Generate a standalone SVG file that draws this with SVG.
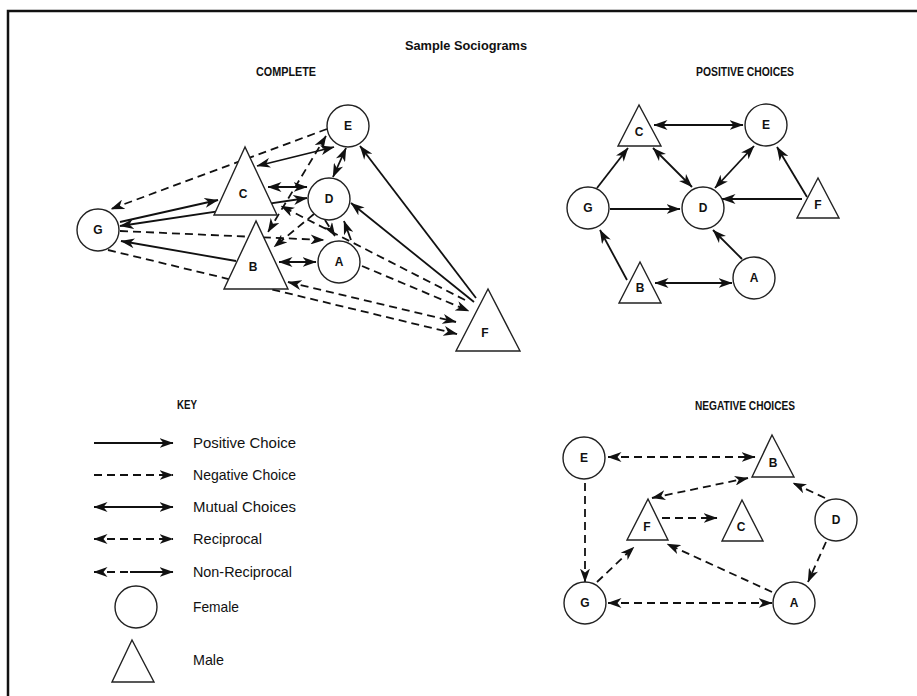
<svg xmlns="http://www.w3.org/2000/svg" width="917" height="696" viewBox="0 0 917 696">
<defs>
<marker id="ah" viewBox="0 0 14 10" refX="13.5" refY="5" markerWidth="14" markerHeight="10" markerUnits="userSpaceOnUse" orient="auto-start-reverse">
<path d="M0,0 L14,5 L0,10 L4,5 Z" fill="#111" stroke="none"/>
</marker>
<style>
.n{fill:#fff;stroke:#222;stroke-width:1.4}
.lbl{font-family:"Liberation Sans Narrow","Liberation Sans",Arial,sans-serif;font-weight:bold;font-size:12px;text-anchor:middle;fill:#111}
.hd{font-family:"Liberation Sans Narrow","Liberation Sans",Arial,sans-serif;font-weight:bold;font-size:12px;text-anchor:middle;fill:#111}
.kt{font-family:"Liberation Sans Narrow","Liberation Sans",Arial,sans-serif;font-size:15px;fill:#111}
.e{stroke:#111;stroke-width:1.8;fill:none}
.d{stroke-dasharray:8 5}
.a1{marker-end:url(#ah)}
.a2{marker-start:url(#ah);marker-end:url(#ah)}
.a0{marker-start:url(#ah)}
</style>
</defs>
<rect width="917" height="696" fill="#fff"/>
<path d="M8,700 V11 H920" fill="none" stroke="#111" stroke-width="2.5"/>

<text class="hd" x="466" y="50" font-size="16" textLength="122" lengthAdjust="spacingAndGlyphs">Sample Sociograms</text>
<text class="hd" x="286" y="76" textLength="60" lengthAdjust="spacingAndGlyphs">COMPLETE</text>
<text class="hd" x="745" y="76" textLength="98" lengthAdjust="spacingAndGlyphs">POSITIVE CHOICES</text>
<text class="hd" x="187" y="409" textLength="20" lengthAdjust="spacingAndGlyphs">KEY</text>
<text class="hd" x="745" y="410" textLength="100" lengthAdjust="spacingAndGlyphs">NEGATIVE CHOICES</text>

<!-- COMPLETE -->
<g id="complete-edges">
<line class="e d a1" x1="327" y1="129" x2="111" y2="209"/>
<line class="e a2" x1="257" y1="166" x2="334" y2="147"/>
<line class="e d a2" x1="326" y1="136" x2="268" y2="232"/>
<line class="e a2" x1="346" y1="148" x2="333" y2="177"/>
<line class="e a2" x1="268" y1="187" x2="307" y2="187"/>
<line class="e a2" x1="120" y1="226" x2="307" y2="198"/>
<line class="e a1" x1="120" y1="222" x2="218" y2="200"/>
<line class="e d a1" x1="314" y1="214" x2="274" y2="247"/>
<line class="e d a1" x1="120" y1="231" x2="324" y2="240"/>
<line class="e d a1" x1="465" y1="300" x2="281" y2="206"/>
<line class="e d a1" x1="325" y1="220" x2="335" y2="236"/>
<line class="e a1" x1="351" y1="240" x2="344" y2="221"/>
<line class="e a2" x1="279" y1="262" x2="316" y2="262"/>
<line class="e d a1" x1="362" y1="266" x2="469" y2="311"/>
<line class="e d a2" x1="288" y1="282" x2="456" y2="322"/>
<line class="e d a1" x1="108" y1="250" x2="457" y2="334"/>
<line class="e a1" x1="236" y1="261" x2="121" y2="241"/>
<line class="e a1" x1="474" y1="302" x2="351" y2="203"/>
<line class="e a1" x1="476" y1="298" x2="360" y2="146"/>
</g>
<g id="c-G"><circle class="n" cx="98" cy="230" r="21"/><text class="lbl" x="98" y="234.3">G</text></g>
<g id="c-E"><circle class="n" cx="348" cy="126" r="21"/><text class="lbl" x="348" y="130.3">E</text></g>
<g id="c-D"><circle class="n" cx="329" cy="199" r="21"/><text class="lbl" x="329" y="203.3">D</text></g>
<g id="c-A"><circle class="n" cx="339" cy="262" r="21"/><text class="lbl" x="339" y="266.3">A</text></g>
<g id="c-C"><polygon class="n" points="245,147 214,215 277,215"/><text class="lbl" x="243" y="198.3">C</text></g>
<g id="c-B"><polygon class="n" points="256,221 224,289 288,289"/><text class="lbl" x="253" y="271">B</text></g>
<g id="c-F"><polygon class="n" points="488,289 456,351 520,351"/><text class="lbl" x="485" y="337.3">F</text></g>

<!-- POSITIVE -->
<g id="positive-edges">
<line class="e a2" x1="654" y1="125" x2="743" y2="125"/>
<line class="e a2" x1="653" y1="148" x2="692" y2="187"/>
<line class="e a2" x1="754" y1="146" x2="715" y2="188"/>
<line class="e a1" x1="597" y1="188" x2="628" y2="148"/>
<line class="e a1" x1="610" y1="209" x2="680" y2="209"/>
<line class="e a1" x1="802" y1="199" x2="722" y2="199"/>
<line class="e a1" x1="807" y1="197" x2="777" y2="147"/>
<line class="e a1" x1="742" y1="259" x2="713" y2="230"/>
<line class="e a1" x1="627" y1="280" x2="600" y2="230"/>
<line class="e a2" x1="655" y1="283" x2="732" y2="283"/>
</g>
<g id="p-C"><polygon class="n" points="639,105 618,146 661,146"/><text class="lbl" x="639" y="136.3">C</text></g>
<g id="p-E"><circle class="n" cx="766" cy="125" r="21"/><text class="lbl" x="766" y="129.3">E</text></g>
<g id="p-G"><circle class="n" cx="588" cy="208" r="21"/><text class="lbl" x="588" y="212.3">G</text></g>
<g id="p-D"><circle class="n" cx="703" cy="208" r="21"/><text class="lbl" x="703" y="212.3">D</text></g>
<g id="p-F"><polygon class="n" points="818,178 797,218 839,218"/><text class="lbl" x="818" y="209.3">F</text></g>
<g id="p-B"><polygon class="n" points="640,262 619,303 661,303"/><text class="lbl" x="640" y="292.3">B</text></g>
<g id="p-A"><circle class="n" cx="754" cy="278" r="21"/><text class="lbl" x="754" y="282.3">A</text></g>

<!-- NEGATIVE -->
<g id="negative-edges">
<line class="e d a2" x1="608" y1="457" x2="755" y2="457"/>
<line class="e d a2" x1="652" y1="498" x2="748" y2="478"/>
<line class="e d a1" x1="662" y1="518" x2="717" y2="518"/>
<line class="e d a1" x1="825" y1="498" x2="793" y2="483"/>
<line class="e d a1" x1="826" y1="542" x2="808" y2="582"/>
<line class="e d a1" x1="772" y1="592" x2="667" y2="544"/>
<line class="e d a1" x1="585" y1="483" x2="585" y2="582"/>
<line class="e d a1" x1="597" y1="582" x2="634" y2="547"/>
<line class="e d a2" x1="608" y1="603" x2="772" y2="603"/>
</g>
<g id="n-E"><circle class="n" cx="584" cy="458" r="21"/><text class="lbl" x="584" y="462.3">E</text></g>
<g id="n-B"><polygon class="n" points="772,435 752,477 794,477"/><text class="lbl" x="773" y="467.3">B</text></g>
<g id="n-F"><polygon class="n" points="648,499 627,540 668,540"/><text class="lbl" x="647" y="531">F</text></g>
<g id="n-C"><polygon class="n" points="742,500 722,541 763,541"/><text class="lbl" x="741" y="531">C</text></g>
<g id="n-D"><circle class="n" cx="836" cy="520" r="21"/><text class="lbl" x="836" y="524.3">D</text></g>
<g id="n-G"><circle class="n" cx="585" cy="603" r="21"/><text class="lbl" x="585" y="607.3">G</text></g>
<g id="n-A"><circle class="n" cx="794" cy="603" r="21"/><text class="lbl" x="794" y="607.3">A</text></g>

<!-- KEY -->
<g id="key-lines">
<line class="e a1" x1="94" y1="443" x2="173" y2="443"/>
<line class="e d a1" x1="94" y1="475" x2="173" y2="475"/>
<line class="e a2" x1="94" y1="507" x2="173" y2="507"/>
<line class="e d a2" x1="94" y1="539" x2="173" y2="539"/>
<line class="e d a0" x1="94" y1="572" x2="130" y2="572"/>
<line class="e a1" x1="130" y1="572" x2="173" y2="572"/>
</g>
<g id="key-female"><circle class="n" cx="136" cy="607" r="21"/></g>
<g id="key-male"><polygon class="n" points="132,640 112,682 154,682"/></g>
<g id="key-text">
<text class="kt" x="193" y="448.4" textLength="103" lengthAdjust="spacingAndGlyphs">Positive Choice</text>
<text class="kt" x="193" y="480.4" textLength="103" lengthAdjust="spacingAndGlyphs">Negative Choice</text>
<text class="kt" x="193" y="512.4" textLength="103" lengthAdjust="spacingAndGlyphs">Mutual Choices</text>
<text class="kt" x="193" y="544.4" textLength="69" lengthAdjust="spacingAndGlyphs">Reciprocal</text>
<text class="kt" x="193" y="577.4" textLength="99" lengthAdjust="spacingAndGlyphs">Non-Reciprocal</text>
<text class="kt" x="193" y="612.4" textLength="46" lengthAdjust="spacingAndGlyphs">Female</text>
<text class="kt" x="193" y="665.4" textLength="31" lengthAdjust="spacingAndGlyphs">Male</text>
</g>
</svg>
